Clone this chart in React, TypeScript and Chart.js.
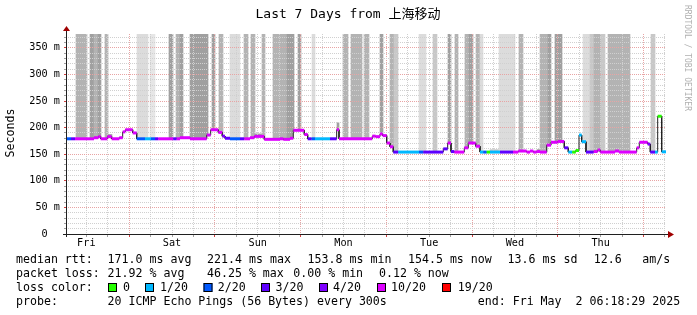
import React, { useEffect, useRef } from 'react';
import { Chart, registerables } from 'chart.js';

Chart.register(...registerables);

const FONT = "'DejaVu Sans Mono', 'Noto Sans CJK SC', monospace";

// time axis: hours since Fri 00:00 (window Fri 06:18 .. next Fri 06:18)
const START_H = 6.31;
const END_H = 174.31;
const Y_MAX = 376;

const titleText = 'Last 7 Days from 上海移动';
const dayNames = ['Fri', 'Sat', 'Sun', 'Mon', 'Tue', 'Wed', 'Thu', 'Fri'];
const xTickHours = [12, 18, 24, 30, 36, 42, 48, 54, 60, 66, 72, 78, 84, 90, 96, 102, 108, 114, 120, 126, 132, 138, 144, 150, 156, 162, 168, 174];
const yTickValues = [0, 10, 20, 30, 40, 50, 60, 70, 80, 90, 100, 110, 120, 130, 140, 150, 160, 170, 180, 190, 200, 210, 220, 230, 240, 250, 260, 270, 280, 290, 300, 310, 320, 330, 340, 350, 360, 370];

// median rtt (ms) as steps: segment k spans medianBounds[k]..medianBounds[k+1]
const medianBounds = [
  6.31, 7.71, 8.83, 14.15, 15.35, 16.02, 17.87, 19.10, 21.23, 22.18, 22.91, 24.98, 26.10, 28.43, 30.11, 31.23,
  32.15, 36.35, 37.30, 38.23, 41.03, 45.70, 46.82, 48.95, 50.07, 50.83, 52.23, 55.03, 56.23, 57.83, 59.03, 61.83,
  66.23, 67.15, 69.03, 69.95, 73.03, 73.98, 75.10, 76.03, 80.23, 82.10, 82.75, 92.07, 93.02, 94.23, 94.98, 96.10,
  97.03, 97.95, 99.35, 105.15, 106.35, 111.95, 113.18, 114.11, 115.03, 117.83, 118.95, 121.02, 122.23, 123.15, 124.10, 125.03,
  127.83, 131.47, 132.95, 135.30, 136.23, 137.15, 138.10, 139.03, 140.90, 142.11, 143.98, 145.83, 146.95, 148.07, 149.02, 149.95,
  150.70, 151.91, 154.06, 155.18, 155.91, 160.03, 161.15, 166.10, 166.83, 169.18, 169.91, 171.23, 171.98, 173.10, 174.31,
];
const medianValues = [
  179, 179, 179, 181, 183, 179, 183, 179, 181, 192,
  196, 190, 179, 179, 179, 179, 179, 179, 179, 181,
  179, 186, 196, 191, 184, 180, 179, 179, 179, 181,
  183.5, 178, 179, 178, 180, 195, 187, 179, 179, 179,
  179, 196, 179, 184, 183, 188, 185, 171, 164, 154,
  154, 154, 154, 160, 171, 155, 154, 162, 171, 165,
  154, 154, 154, 154, 154, 154, 156, 154, 156, 154,
  155, 154, 167, 172.5, 174, 162, 154, 154, 157, 186,
  173.5, 154, 155, 158, 154, 156, 154, 162, 172.5, 169,
  154, 154, 221.4, 154.5,
];
// loss bin index per segment (0 = 0, 1 = 1/20, 2 = 2/20, 3 = 3/20, 4 = 4/20, 5 = 10/20, 6 = 19/20)
const medianLoss = [
  2, 3, 5, 5, 5, 5, 5, 5, 5, 5,
  5, 5, 2, 1, 2, 3, 5, 3, 5, 5,
  5, 5, 5, 5, 4, 3, 2, 3, 5, 5,
  5, 5, 5, 5, 5, 5, 5, 3, 2, 1,
  3, 5, 5, 5, 5, 5, 5, 5, 5, 3,
  1, 2, 3, 3, 5, 3, 5, 5, 5, 5,
  1, 2, 0, 1, 3, 5, 5, 5, 5, 5,
  5, 5, 5, 5, 5, 3, 1, 0, 0, 1,
  1, 3, 5, 5, 5, 5, 5, 5, 5, 4,
  3, 1, 0, 1,
];

const lossLabels = ['0', '1/20', '2/20', '3/20', '4/20', '10/20', '19/20'];
const lossColors = ['#26ff00', '#00b8ff', '#0059ff', '#5e00ff', '#7e00ff', '#dd00ff', '#ff0000'];

// smoke (ping spread) bands: from the median up to smokeTop
const smokeStart = [17.87, 59.03, 82.10, 125.03, 138.10, 160.03,
  9.11, 13.03, 14.15, 15.35, 17.23, 26.10, 29.83, 35.15, 37.11, 38.23, 41.03, 47.27, 49.15, 52.23, 56.15, 58.11, 61.10,
  64.18, 68.10, 71.18, 75.10, 83.95, 86.02, 89.83, 94.23, 97.03, 98.15, 105.15, 109.15, 113.18, 115.23, 117.99, 119.11,
  121.11, 122.23, 127.51, 133.15, 139.03, 141.18, 143.23, 151.15, 153.03, 154.15, 156.11, 158.15, 170.11];
const smokeEnd = [19.10, 61.83, 82.75, 127.83, 139.03, 161.15,
  12.10, 14.15, 15.35, 16.02, 17.98, 29.35, 31.23, 36.18, 38.23, 38.98, 45.98, 48.03, 50.27, 55.03, 57.18, 59.23, 62.03,
  68.10, 70.15, 72.11, 76.03, 85.35, 89.27, 91.15, 94.98, 98.15, 99.27, 107.11, 110.19, 114.11, 116.15, 119.11, 120.18,
  122.23, 123.15, 131.90, 134.18, 141.18, 142.11, 145.10, 153.03, 154.15, 156.11, 157.23, 164.22, 171.23];
const smokeTop = [187, 188, 209, 158.5, 158.6, 158,
  376, 376, 376, 376, 376, 376, 376, 376, 376, 376, 376, 376, 376, 376, 376, 376, 376,
  376, 376, 376, 376, 376, 376, 376, 376, 376, 376, 376, 376, 376, 376, 376, 376,
  376, 376, 376, 376, 376, 376, 376, 376, 376, 376, 376, 376, 376];
const smokeShade = [0, 0, 0, 2, 0, 1,
  1, 0, 1, 0, 1, 3, 4, 0, 1, 0, 0, 0, 1, 3, 1, 1, 1,
  1, 0, 0, 3, 1, 1, 1, 0, 1, 2, 3, 2, 0, 1, 1, 0,
  1, 3, 3, 1, 1, 0, 0, 3, 2, 1, 2, 1, 2];
const smokeColors = ['#a0a0a0', '#b4b4b4', '#c8c8c8', '#dcdcdc', '#e6e6e6'];

const rttStats = ['171.0 ms avg', '221.4 ms max', '153.8 ms min', '154.5 ms now', '13.6 ms sd', '12.6', 'am/s'];
const lossStats = ['21.92 % avg', '46.25 % max', '0.00 % min', '0.12 % now'];
const probeText = '20 ICMP Echo Pings (56 Bytes) every 300s';
const endText = 'end: Fri May  2 06:18:29 2025';

const N_BINS = 600;

function medianAt(h: number): number {
  for (let k = 0; k < medianValues.length; k++) {
    if (h >= medianBounds[k] && h < medianBounds[k + 1]) return medianValues[k];
  }
  return medianValues[medianValues.length - 1];
}

function buildSmoke() {
  const out: any[] = [];
  const w = (END_H - START_H) / N_BINS;
  for (let i = 0; i < N_BINS; i++) {
    const c = START_H + (i + 0.5) * w;
    let found = -1;
    for (let s = 0; s < smokeStart.length; s++) {
      if (c >= smokeStart[s] && c < smokeEnd[s]) found = s;
    }
    if (found >= 0) out.push({ x: c, y: [medianAt(c), smokeTop[found]], s: smokeShade[found] });
  }
  return out;
}

function buildMedianLine() {
  const out: any[] = [];
  for (let k = 0; k < medianValues.length; k++) {
    out.push({ x: medianBounds[k], y: medianValues[k] });
    out.push({ x: medianBounds[k + 1], y: medianValues[k] });
  }
  return out;
}

function buildLossLine() {
  const out: any[] = [];
  for (let k = 0; k < medianValues.length; k++) {
    out.push({ x: medianBounds[k], y: medianValues[k] });
    out.push({ x: medianBounds[k + 1], y: medianValues[k] });
    out.push({ x: medianBounds[k + 1], y: null });
  }
  return out;
}

const MINOR = '#d0d0d0';
const MAJOR = '#e8a4a4';

// draw the median lines after the (on-top) grid, like rrdtool
let lateDraw = false;

const decorPlugin = {
  id: 'decor',
  beforeDraw(chart: any) {
    const ctx = chart.ctx;
    ctx.save();
    ctx.fillStyle = '#ffffff';
    ctx.fillRect(0, 0, chart.width, chart.height);
    ctx.restore();
  },
  beforeDatasetDraw(chart: any, args: any) {
    if (args.index > 0 && !lateDraw) return false;
    return true;
  },
  afterDraw(chart: any) {
    const ctx = chart.ctx as CanvasRenderingContext2D;
    const a = chart.chartArea;

    lateDraw = true;
    [1, 2].forEach((i) => {
      const meta = chart.getDatasetMeta(i);
      (chart as any)._drawDataset(meta);
    });
    lateDraw = false;

    ctx.save();
    // axes
    ctx.strokeStyle = '#202020';
    ctx.lineWidth = 1;
    ctx.beginPath();
    ctx.moveTo(a.left - 3, a.bottom + 0.5);
    ctx.lineTo(a.right + 4, a.bottom + 0.5);
    ctx.stroke();
    ctx.beginPath();
    ctx.moveTo(a.left + 0.5, a.bottom + 3);
    ctx.lineTo(a.left + 0.5, a.top - 4);
    ctx.stroke();
    ctx.fillStyle = '#a00000';
    ctx.beginPath();
    ctx.moveTo(a.right + 2, a.bottom - 3);
    ctx.lineTo(a.right + 8, a.bottom + 0.5);
    ctx.lineTo(a.right + 2, a.bottom + 4);
    ctx.closePath();
    ctx.fill();
    ctx.beginPath();
    ctx.moveTo(a.left - 3, a.top - 3);
    ctx.lineTo(a.left + 0.5, a.top - 8);
    ctx.lineTo(a.left + 4, a.top - 3);
    ctx.closePath();
    ctx.fill();

    // title
    ctx.fillStyle = '#000000';
    ctx.font = `13px ${FONT}`;
    ctx.textAlign = 'center';
    ctx.textBaseline = 'middle';
    ctx.fillText(titleText, 348, 15);

    // vertical axis title
    ctx.save();
    ctx.translate(11, 133);
    ctx.rotate(-Math.PI / 2);
    ctx.font = `11.6px ${FONT}`;
    ctx.fillText('Seconds', 0, 0);
    ctx.restore();

    // watermark
    ctx.save();
    ctx.translate(687, 5);
    ctx.rotate(Math.PI / 2);
    ctx.font = `8px ${FONT}`;
    ctx.fillStyle = '#b0b0b0';
    ctx.textAlign = 'left';
    ctx.fillText('RRDTOOL / TOBI OETIKER', 0, 0);
    ctx.restore();

    // legend
    ctx.font = `11.6px ${FONT}`;
    ctx.textAlign = 'left';
    ctx.textBaseline = 'middle';
    ctx.fillStyle = '#000000';
    const r1 = 260, r2 = 274, r3 = 287.5, r4 = 301.5;
    ctx.fillText('median rtt:', 16, r1);
    const rttX = [107.6, 207.1, 307.6, 408, 507.6, 593.8, 642.2];
    rttStats.forEach((t, i) => ctx.fillText(t, rttX[i], r1));
    ctx.fillText('packet loss:', 16, r2);
    const lossX = [107.6, 207, 293.3, 379];
    lossStats.forEach((t, i) => ctx.fillText(t, lossX[i], r2));
    ctx.fillText('loss color:', 16, r3);
    const boxX = [108, 145, 203.5, 261, 319, 377, 442];
    const labX = [123, 160, 217.8, 275.6, 333, 391, 457.8];
    lossLabels.forEach((t, i) => {
      ctx.fillStyle = lossColors[i];
      ctx.fillRect(boxX[i], r3 - 4.5, 9, 9);
      ctx.strokeStyle = '#000000';
      ctx.strokeRect(boxX[i] + 0.5, r3 - 4, 8, 8);
      ctx.fillStyle = '#000000';
      ctx.fillText(t, labX[i], r3);
    });
    ctx.fillText('probe:', 16, r4);
    ctx.fillText(probeText, 107.6, r4);
    ctx.fillText(endText, 477.8, r4);
    ctx.restore();
  },
};

export default function App() {
  const ref = useRef<HTMLCanvasElement>(null);
  useEffect(() => {
    if (!ref.current) return;
    const chart = new Chart(ref.current, {
      type: 'line',
      data: {
        datasets: [
          {
            type: 'bar',
            data: buildSmoke(),
            backgroundColor: (c: any) => (c.raw ? smokeColors[c.raw.s] : '#b4b4b4'),
            borderWidth: 0,
            barPercentage: 1,
            categoryPercentage: 1,
            grouped: false,
            order: 3,
          } as any,
          {
            type: 'line',
            data: buildMedianLine(),
            borderColor: '#202020',
            borderWidth: 1,
            pointRadius: 0,
            tension: 0,
            fill: false,
            order: 2,
          },
          {
            type: 'line',
            data: buildLossLine(),
            borderColor: '#dd00ff',
            borderWidth: 3,
            borderCapStyle: 'butt',
            pointRadius: 0,
            tension: 0,
            fill: false,
            spanGaps: false,
            order: 1,
            segment: {
              borderColor: (c: any) => lossColors[medianLoss[Math.floor(c.p0DataIndex / 3)]],
            },
          } as any,
        ],
      },
      options: {
        animation: false,
        responsive: false,
        devicePixelRatio: 1,
        events: [],
        layout: { padding: { left: 0, right: 31, top: 34, bottom: 61 } },
        plugins: { legend: { display: false }, tooltip: { enabled: false }, title: { display: false } },
        scales: {
          x: {
            type: 'linear',
            min: START_H,
            max: END_H,
            offset: false,
            afterBuildTicks: (s: any) => {
              s.ticks = xTickHours.map((v) => ({ value: v }));
            },
            afterFit: (s: any) => {
              s.height = 20;
            },
            ticks: {
              autoSkip: false,
              maxRotation: 0,
              padding: 0,
              color: '#000000',
              font: { family: FONT, size: 10.2 },
              callback: (v: any) => (v % 24 === 12 ? dayNames[Math.floor(v / 24)] : ''),
            },
            grid: {
              z: 1,
              offset: false,
              lineWidth: 1,
              color: (c: any) => (c.tick && c.tick.value % 24 === 0 ? MAJOR : MINOR),
              tickColor: (c: any) => (c.tick && c.tick.value % 24 === 0 ? '#d04040' : '#a0a0a0'),
              tickLength: 3,
              drawTicks: true,
            },
            border: { display: false, dash: [1, 1] },
          },
          y: {
            type: 'linear',
            min: 0,
            max: Y_MAX,
            afterBuildTicks: (s: any) => {
              s.ticks = yTickValues.map((v) => ({ value: v }));
            },
            afterFit: (s: any) => {
              s.width = 66;
            },
            ticks: {
              autoSkip: false,
              padding: 4,
              color: '#000000',
              font: { family: FONT, size: 10.2 },
              callback: (v: any) => (v === 0 ? '0  ' : v % 50 === 0 ? `${v} m` : ''),
            },
            grid: {
              z: 1,
              lineWidth: 1,
              color: (c: any) => (c.tick && c.tick.value % 50 === 0 ? MAJOR : MINOR),
              tickColor: (c: any) => (c.tick && c.tick.value % 50 === 0 ? '#d04040' : '#a0a0a0'),
              tickLength: 2,
              drawTicks: true,
            },
            border: { display: false, dash: [1, 1] },
          },
        },
      } as any,
      plugins: [decorPlugin],
    });
    return () => chart.destroy();
  }, []);
  return (
    <div style={{ position: 'fixed', left: 0, top: 0, width: 697, height: 315, background: '#fff' }}>
      <canvas ref={ref} width={697} height={315} style={{ width: 697, height: 315, display: 'block' }} />
    </div>
  );
}
